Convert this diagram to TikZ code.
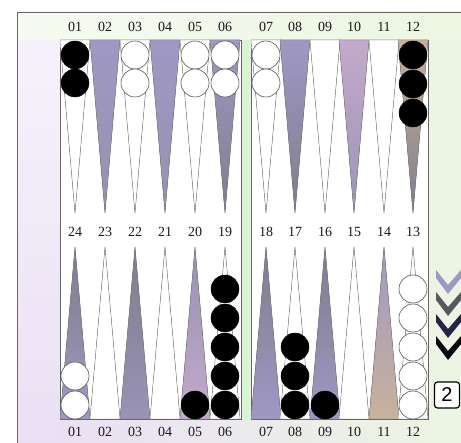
\documentclass[tikz,border=0pt]{standalone}
\usepackage{fontspec}
\setmainfont{Liberation Serif}
\setsansfont{Liberation Sans}

\definecolor{pulav}{RGB}{160,152,196}
\definecolor{pugrey}{RGB}{128,124,140}
\definecolor{pupink}{RGB}{196,170,204}
\definecolor{putan}{RGB}{200,178,156}
\definecolor{bglav}{RGB}{234,224,244}
\definecolor{bggreen}{RGB}{236,246,226}
\definecolor{navy}{RGB}{40,34,70}

\begin{document}
\begin{tikzpicture}[
  x=1pt, y=-1pt,
  lbl/.style={font=\fontsize{14}{14}\selectfont, inner sep=0pt, text=black!90},
  tri/.style={draw=gray, line width=0.4pt},
  blk/.style={circle, draw=black, fill=black, minimum size=28pt, inner sep=0pt},
  wht/.style={circle, draw=gray!70!black, fill=white, minimum size=28pt, inner sep=0pt, line width=0.6pt}
]
\useasboundingbox (0,0) rectangle (461,443);
\clip (0,0) rectangle (461,443);

% background and frame
\fill[white] (0,0) rectangle (461,443);
\shade[top color=bglav!40, bottom color=bglav] (17,12) rectangle (60,452);
\shade[left color=bglav, right color=bggreen] (60,12) rectangle (470,452);
\shade[left color=bggreen!50, right color=bggreen] (17,12) rectangle (470,40);
\fill[bggreen!90!green] (243,40) rectangle (249,419);
\draw[gray!80!black, line width=0.8pt] (17,12) rectangle (470,452);

% the two halves
\filldraw[fill=white, draw=gray!80!black, line width=0.6pt] (60,40) rectangle (241,419);
\filldraw[fill=white, draw=gray!80!black, line width=0.6pt] (251,40) rectangle (428,419);

% top points, labels 01-12
\foreach \x/\a/\b in {75/white/white, 105/pulav/pulav!70!gray, 135/white/white, 165/pulav/pulav!70!gray,
                      195/white/white, 225/pulav/pugrey, 266/white/white, 295/pulav/pugrey,
                      325/white/white, 354/pupink/pulav!80!gray, 384/white/white, 413/putan/pugrey}
  \filldraw[tri, top color=\a, bottom color=\b] (\x-15,40) -- (\x,213) -- (\x+15,40) -- cycle;

% bottom points, labels 24-13
\foreach \x/\a/\b in {75/pugrey/pulav, 105/white/white, 135/pugrey/pulav!80!gray, 165/white/white,
                      195/pulav!70!gray/pupink, 225/white/white, 266/pugrey/pulav, 295/white/white,
                      325/pugrey/pulav, 354/white/white, 384/pulav/putan, 413/white/white}
  \filldraw[tri, top color=\a, bottom color=\b] (\x-15,419) -- (\x,247) -- (\x+15,419) -- cycle;

% labels
\foreach \n/\x in {01/75, 02/105, 03/135, 04/165, 05/195, 06/225,
                   07/266, 08/295, 09/325, 10/354, 11/384, 12/413} {
  \node[lbl] (top\n) at (\x,27) {\n};
  \node[lbl] (bot\n) at (\x,432) {\n};
}
\foreach \n/\x in {24/75, 23/105, 22/135, 21/165, 20/195, 19/225,
                   18/266, 17/295, 16/325, 15/354, 14/384, 13/413}
  \node[lbl] (mid\n) at (\x,232) {\n};

% checkers, upper row
\node[blk] (u01a) at (75,55) {};
\node[blk] (u01b) at (75,83) {};
\node[wht] (u03a) at (135,55) {};
\node[wht] (u03b) at (135,83) {};
\node[wht] (u05a) at (195,55) {};
\node[wht] (u05b) at (195,83) {};
\node[wht] (u06a) at (225,55) {};
\node[wht] (u06b) at (225,83) {};
\node[wht] (u07a) at (266,55) {};
\node[wht] (u07b) at (266,83) {};
\foreach \y [count=\i] in {55,84,113}
  \node[blk] (u12\i) at (413,\y) {};

% checkers, lower row
\node[wht] (l24a) at (75,405) {};
\node[wht] (l24b) at (75,376) {};
\node[blk] (l20a) at (195,405) {};
\foreach \y [count=\i] in {405,376,347,318,289}
  \node[blk] (l19\i) at (225,\y) {};
\foreach \y [count=\i] in {405,376,347}
  \node[blk] (l17\i) at (295,\y) {};
\node[blk] (l16a) at (325,405) {};
\foreach \y [count=\i] in {405,376,347,318,289}
  \node[wht] (l13\i) at (413,\y) {};

% arrows at the right
\foreach \t/\c in {270/pulav, 292/pugrey!70!black, 314/navy, 336/black!85!navy}
  \fill[\c] (436,\t) -- (448,\t+15) -- (461,\t) -- (461,\t+8) -- (448,\t+24) -- (436,\t+8) -- cycle;

% cube
\node[draw, line width=1.2pt, rounded corners=3pt, fill=white, minimum width=25pt,
      minimum height=26pt, inner sep=0pt, font=\sffamily\fontsize{20}{20}\selectfont]
  (cube) at (447,395) {2};
\end{tikzpicture}
\end{document}
